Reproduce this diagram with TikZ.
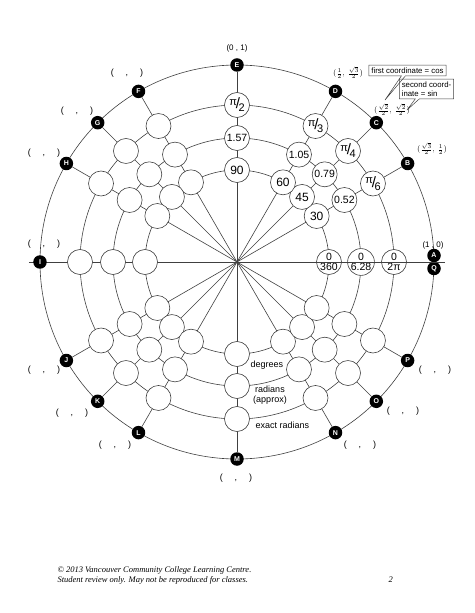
\documentclass[tikz,border=0pt]{standalone}
\usepackage{fontspec}
\setsansfont{Liberation Sans}
\newfontfamily\notefont{Liberation Serif}
\usepackage{amsmath}
\usetikzlibrary{positioning, shapes.callouts, backgrounds}
\newcommand{\pifrac}[1]{%
  \raisebox{3.5pt}{π}\kern-1pt{\fontsize{15}{15}\selectfont/}\kern-1.5pt\raisebox{-3pt}{#1}}

\begin{document}
\begin{tikzpicture}[
  x=1pt, y=1pt,
  font=\sffamily,
  ring/.style={draw=black!75, line width=0.6pt},
  spoke/.style={draw=black!75, line width=0.6pt},
  slot/.style={circle, draw=black!75, line width=0.6pt, fill=white,
    minimum size=25pt, inner sep=0pt},
  degf/.style={font=\sffamily\fontsize{12}{12}\selectfont},
  apxf/.style={font=\sffamily\fontsize{10.5}{10.5}\selectfont},
  exaf/.style={font=\sffamily\fontsize{11}{11}\selectfont},
  zerof/.style={align=center, font=\sffamily\fontsize{10.5}{10.5}\selectfont},
  ltr/.style={circle, fill=black, text=white, minimum size=13.5pt, inner sep=0pt,
    font=\sffamily\bfseries\fontsize{7}{7}\selectfont},
  pt/.style={font=\sffamily\fontsize{8}{8}\selectfont, inner sep=1pt},
  blank/.style={font=\sffamily\fontsize{9}{9}\selectfont},
  tag/.style={font=\sffamily\fontsize{9}{10}\selectfont, align=center},
  note/.style={rectangle callout, draw=black!75, line width=0.5pt, align=left,
    inner sep=2.5pt, callout pointer width=4pt,
    font=\sffamily\fontsize{7.8}{9}\selectfont},
  foot/.style={font=\notefont\itshape\fontsize{8.5}{8.5}\selectfont, anchor=west},
]
  \useasboundingbox (-237,-351) rectangle (237,262);
  \coordinate (ctr) at (0,0);
  \coordinate (axL) at (-208,0);
  \coordinate (axR) at (208,0);

  % Letters on the unit circle
  \node[ltr] (A) at (197,6.5)  {A};
  \node[ltr] (Q) at (197,-6.5) {Q};
  \foreach \l/\a in {B/30, C/45, D/60, E/90, F/120, G/135, H/150, I/180,
                     J/210, K/225, L/240, M/270, N/300, O/315, P/330}
    \node[ltr] (\l) at (\a:197) {\l};

  % Answer circles: degrees, radians (approx), exact radians
  \foreach \a/\d/\r/\e in {30/30/0.52/6, 45/45/0.79/4, 60/60/1.05/3, 90/90/1.57/2} {
    \node[slot, degf] (deg\a) at (\a:92)  {\d};
    \node[slot, apxf] (apx\a) at (\a:124) {\r};
    \node[slot, exaf] (exa\a) at (\a:157) {\pifrac{\e}};
  }
  \foreach \a in {120, 135, 150, 180, 210, 225, 240, 270, 300, 315, 330} {
    \node[slot] (deg\a) at (\a:92)  {};
    \node[slot] (apx\a) at (\a:124) {};
    \node[slot] (exa\a) at (\a:157) {};
  }
  \node[slot, zerof] (deg0) at (0:92)  {0\\[-0.5pt]360};
  \node[slot, zerof] (apx0) at (0:124) {0\\[-0.5pt]6.28};
  \node[slot, zerof] (exa0) at (0:157) {0\\[-0.5pt]2π};

  % Rings and spokes
  \begin{scope}[on background layer]
    \foreach \r in {92, 124, 157, 197}
      \draw[ring] (ctr) circle (\r);
    \draw[spoke] (axL) -- (ctr);
    \foreach \l in {B, C, D, E, F, G, H, J, K, L, M, N, O, P}
      \draw[spoke] (ctr) -- (\l);
  \end{scope}
  \draw[spoke] (ctr) -- (axR);

  % Coordinates
  \node[pt] (ptE) at (0,214)    {(0 , 1)};
  \node[pt] (ptA) at (196,17)   {(1 , 0)};
  \node[pt] (ptD) at (111,189)  {$(\frac{1}{2},\,\frac{\sqrt{3}}{2})$};
  \node[pt] (ptC) at (155,152)  {$(\frac{\sqrt{2}}{2},\,\frac{\sqrt{2}}{2})$};
  \node[pt] (ptB) at (195,113)  {$(\frac{\sqrt{3}}{2},\,\frac{1}{2})$};
  \foreach \n/\x/\y in {F/-110/189, G/-160/151, H/-193/109, I/-193/18,
                        J/-193/-108, K/-165/-151, L/-122/-183, M/-1/-216,
                        N/123/-183, O/166/-149, P/198/-108}
    \node[blank] (pt\n) at (\x,\y) {(\hspace{12pt},\hspace{12pt})};

  % Hints
  \coordinate (tipcos) at (148,162);
  \coordinate (tipsin) at (170,152);
  \node[note, callout absolute pointer={(tipcos)}] (cos) at (170.5,191.5)
       {first coordinate = cos};
  \node[note, callout absolute pointer={(tipsin)}] (sin) at (189.5,173)
       {second coord-\\inate = sin};

  % Legend
  \node[tag, anchor=west] (lgdeg) at (10,-103) {degrees};
  \node[tag] (lgapx) at (33,-133) {radians\\(approx)};
  \node[tag, anchor=west] (lgexa) at (15,-163) {exact radians};

  % Footer
  \node[foot] (copy) at (-183,-308) {© 2013 Vancouver Community College Learning Centre.};
  \node[foot] (use) at (-183,-318) {Student review only. May not be reproduced for classes.};
  \node[foot] (page) at (148,-318) {2};
\end{tikzpicture}
\end{document}
